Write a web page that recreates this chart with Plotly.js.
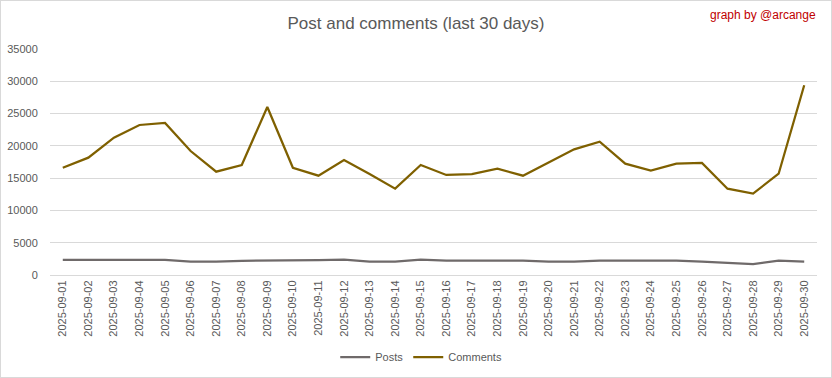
<!DOCTYPE html>
<html>
<head>
<meta charset="utf-8">
<script src="https://cdn.plot.ly/plotly-3.0.1.min.js"></script>
<style>
html,body{margin:0;padding:0;background:#fff;}
#chart{width:830px;height:376px;border:1px solid #d9d9d9;}
</style>
</head>
<body>
<div id="chart"></div>
<script>
const dates = ["2025-09-01","2025-09-02","2025-09-03","2025-09-04","2025-09-05","2025-09-06","2025-09-07","2025-09-08","2025-09-09","2025-09-10",
"2025-09-11","2025-09-12","2025-09-13","2025-09-14","2025-09-15","2025-09-16","2025-09-17","2025-09-18","2025-09-19","2025-09-20",
"2025-09-21","2025-09-22","2025-09-23","2025-09-24","2025-09-25","2025-09-26","2025-09-27","2025-09-28","2025-09-29","2025-09-30"];
const posts = [2350,2350,2350,2350,2350,2060,2060,2200,2200,2200,
2300,2370,2060,2060,2370,2220,2220,2220,2220,2060,
2060,2220,2220,2220,2220,2060,1900,1700,2220,2060];
const comments = [16600,18170,21270,23230,23540,19200,16000,17040,26020,16600,
15380,17810,15640,13370,17040,15490,15640,16470,15380,17390,
19460,20650,17240,16160,17240,17350,13370,12600,15690,29380];
const yTicks = [0,5000,10000,15000,20000,25000,30000,35000];

const font = "'Liberation Sans', Arial, sans-serif";
const data = [
  {x: dates, y: posts, type: 'scatter', mode: 'lines', name: 'Posts',
   line: {color: '#6f6a6a', width: 2.25}},
  {x: dates, y: comments, type: 'scatter', mode: 'lines', name: 'Comments',
   line: {color: '#7f6000', width: 2.25}}
];
const layout = {
  width: 830, height: 376,
  margin: {l: 49, r: 14, t: 48, b: 102, pad: 0, autoexpand: false},
  paper_bgcolor: '#fff', plot_bgcolor: '#fff',
  font: {family: font, color: '#595959', size: 11},
  title: {text: 'Post and comments (last 30 days)', x: 0.5, xanchor: 'center', y: 0.941, yanchor: 'middle',
          font: {family: font, size: 17, color: '#595959'}},
  showlegend: true,
  legend: {orientation: 'h', x: 0.484, xanchor: 'center', y: -0.363, yanchor: 'middle',
           font: {family: font, size: 11, color: '#595959'}, itemwidth: 30, tracegroupgap: 0},
  xaxis: {type: 'category', range: [-0.5, 29.5], tickangle: -90, showgrid: false,
          showline: true, linecolor: '#d9d9d9', linewidth: 1, ticks: '', zeroline: false,
          tickfont: {family: font, size: 11, color: '#595959'}, automargin: false},
  yaxis: {range: [0, 35000], tickvals: yTicks, ticktext: yTicks.map(String), showgrid: true, gridcolor: '#d9d9d9',
          gridwidth: 1, zeroline: false, showline: false, ticks: 'outside', ticklen: 9, tickcolor: 'rgba(0,0,0,0)',
          tickfont: {family: font, size: 11, color: '#595959'}, automargin: false},
  annotations: [
    {text: 'graph by @arcange', xref: 'paper', yref: 'paper', x: 1.0013, y: 1.15, xanchor: 'right', yanchor: 'middle',
     showarrow: false, font: {family: font, size: 12, color: '#c00000'}}
  ]
};
Plotly.newPlot('chart', data, layout, {staticPlot: true, displayModeBar: false});
</script>
</body>
</html>
